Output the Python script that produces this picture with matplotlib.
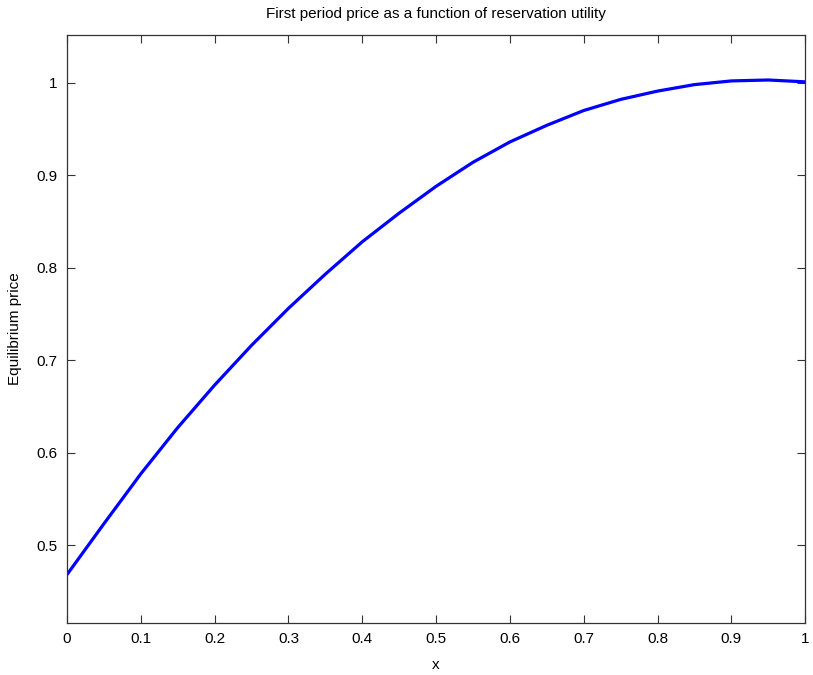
"""
First period price as a function of reservation utility (MATLAB-style line plot).
"""

import matplotlib
matplotlib.use("Agg")
import matplotlib.pyplot as plt

# values
x_vals = [0.0, 0.05, 0.10, 0.15, 0.20, 0.25, 0.30, 0.35, 0.40, 0.45, 0.50,
          0.55, 0.60, 0.65, 0.70, 0.75, 0.80, 0.85, 0.90, 0.95, 1.00]
price = [0.468, 0.523, 0.577, 0.627, 0.673, 0.716, 0.756, 0.793, 0.828, 0.859, 0.888,
         0.914, 0.936, 0.954, 0.970, 0.982, 0.991, 0.998, 1.002, 1.003, 1.001]

x_ticks = [0, 0.1, 0.2, 0.3, 0.4, 0.5, 0.6, 0.7, 0.8, 0.9, 1]
x_tick_labels = ["0", "0.1", "0.2", "0.3", "0.4", "0.5", "0.6", "0.7", "0.8", "0.9", "1"]
y_ticks = [0.5, 0.6, 0.7, 0.8, 0.9, 1]
y_tick_labels = ["0.5", "0.6", "0.7", "0.8", "0.9", "1"]

plt.rcParams["font.family"] = ["Liberation Sans", "DejaVu Sans"]

fig = plt.figure(figsize=(8.13, 6.75), dpi=100)
ax = fig.add_axes([0.0824, 0.0775, 0.9080, 0.8711])

ax.plot(x_vals, price, color=(0, 0, 1), linewidth=2.3,
        solid_capstyle="round", solid_joinstyle="round")

ax.set_xlim(0, 1)
ax.set_ylim(0.416, 1.052)
ax.set_xticks(x_ticks)
ax.set_xticklabels(x_tick_labels)
ax.set_yticks(y_ticks)
ax.set_yticklabels(y_tick_labels)

ax.tick_params(direction="in", length=6, width=0.8, color="#333333",
               top=True, right=True, labelsize=11, pad=7)
for sp in ax.spines.values():
    sp.set_color("#333333")
    sp.set_linewidth(0.9)

ax.set_title("First period price as a function of reservation utility", fontsize=11, pad=12)
ax.set_xlabel("x", fontsize=11, labelpad=8)
ax.set_ylabel("Equilibrium price", fontsize=11, labelpad=10)

fig.savefig("out.png", dpi=100)
